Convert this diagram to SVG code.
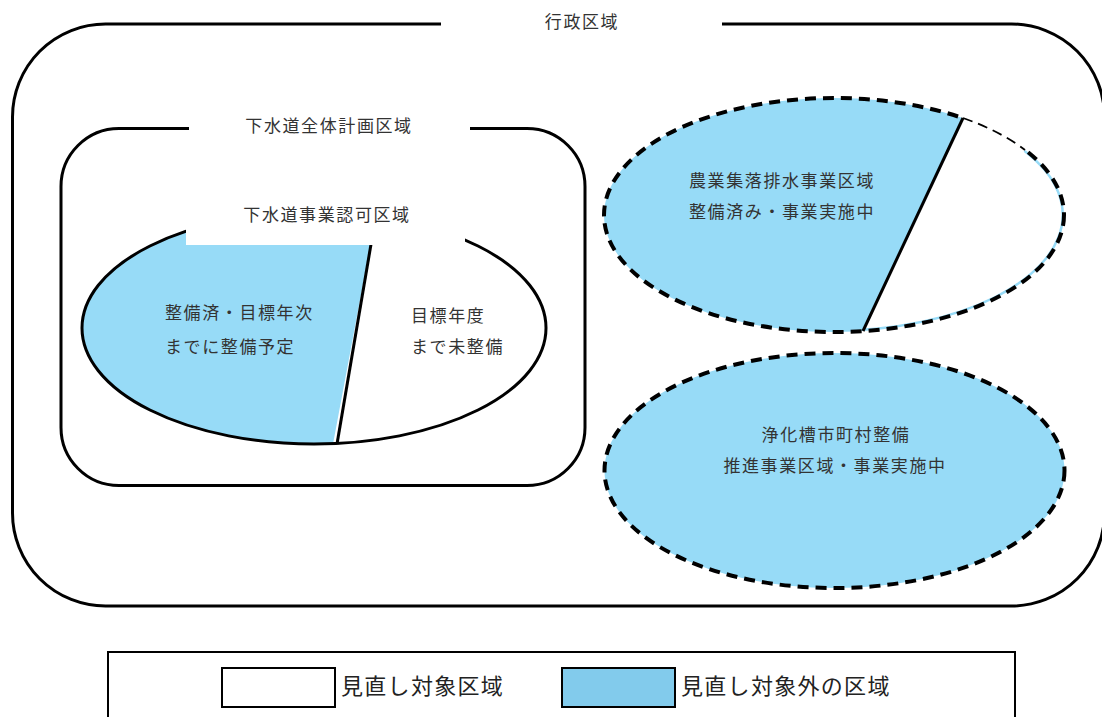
<svg xmlns="http://www.w3.org/2000/svg" width="1102" height="717" viewBox="0 0 1102 717">
<style>
.t{font-family:"Noto Sans CJK JP","Noto Sans",sans-serif;font-size:17px;fill:#333;letter-spacing:1.6px}
.lg{font-family:"Noto Sans CJK JP","Noto Sans",sans-serif;font-size:22px;fill:#222;letter-spacing:1.3px}
.solid{fill:none;stroke:#000;stroke-width:3}
.dash{fill:none;stroke:#000;stroke-width:4;stroke-dasharray:11 7}
</style>
<defs>
<clipPath id="c1"><polygon points="0,0 376.5,0 376.5,212 333,444 333,717 0,717"/></clipPath>
<clipPath id="c2"><polygon points="973,0 1102,0 1102,717 855,717 863,331 963,118"/></clipPath>
</defs>
<rect width="1102" height="717" fill="#fff"/>

<g id="admin-area">
<rect x="12.5" y="24" width="1092" height="582" rx="93" ry="93" class="solid"/>
<rect x="441" y="12" width="281" height="24" fill="#fff"/>
<text x="582" y="28" class="t" text-anchor="middle">行政区域</text>
</g>

<g id="sewer-plan-area">
<rect x="61" y="128.5" width="524" height="357" rx="58" ry="58" class="solid"/>
<rect x="189" y="116" width="281" height="24" fill="#fff"/>
<text x="329" y="132" class="t" text-anchor="middle">下水道全体計画区域</text>
</g>

<g id="sewer-approved-area">
<ellipse cx="314" cy="328" rx="232" ry="116" fill="#fff"/>
<ellipse cx="314" cy="328" rx="232" ry="116" fill="#97DBF7" clip-path="url(#c1)"/>
<ellipse cx="314" cy="328" rx="232" ry="116" class="solid"/>
<line x1="376.5" y1="212" x2="337" y2="444" stroke="#000" stroke-width="3"/>
<rect x="186" y="196" width="279" height="49" fill="#fff"/>
<text x="327" y="221" class="t" text-anchor="middle">下水道事業認可区域</text>
<text x="165" y="319" class="t">整備済・目標年次</text>
<text x="165" y="353" class="t">までに整備予定</text>
<text x="411" y="322" class="t">目標年度</text>
<text x="411" y="353" class="t">まで未整備</text>
</g>

<g id="rural-drainage-area">
<ellipse cx="834" cy="215" rx="230" ry="117" fill="#97DBF7"/>
<g clip-path="url(#c2)"><ellipse cx="834" cy="215" rx="227.5" ry="114.5" fill="#fff"/></g>
<ellipse cx="834" cy="215" rx="230" ry="117" class="dash"/>
<path d="M963,118 A230,117 0 0 1 1025,150" fill="none" stroke="#fff" stroke-width="6"/>
<path d="M963,118 A230,117 0 0 1 1025,150" fill="none" stroke="#000" stroke-width="1.8" stroke-dasharray="10 6"/>
<line x1="963" y1="118" x2="863" y2="331" stroke="#000" stroke-width="3"/>
<text x="689" y="187" class="t">農業集落排水事業区域</text>
<text x="689" y="218" class="t">整備済み・事業実施中</text>
</g>

<g id="septic-area">
<ellipse cx="834.5" cy="470.5" rx="230" ry="117.5" fill="#97DBF7"/>
<ellipse cx="834.5" cy="470.5" rx="230" ry="117.5" class="dash"/>
<text x="836" y="441" class="t" text-anchor="middle">浄化槽市町村整備</text>
<text x="835" y="472" class="t" text-anchor="middle">推進事業区域・事業実施中</text>
</g>

<g id="legend">
<rect x="108" y="652" width="907" height="80" fill="#fff" stroke="#000" stroke-width="2"/>
<rect x="222" y="668" width="113" height="39" fill="#fff" stroke="#000" stroke-width="2"/>
<text x="341" y="694" class="lg">見直し対象区域</text>
<rect x="562" y="668" width="113" height="39" fill="#82CBEC" stroke="#000" stroke-width="2"/>
<text x="681" y="694" class="lg">見直し対象外の区域</text>
</g>

<g id="connectors"></g>
</svg>
